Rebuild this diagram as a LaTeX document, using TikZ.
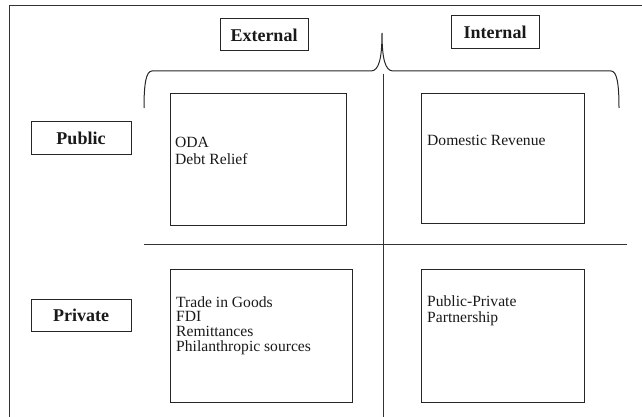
\documentclass[tikz,border=0pt]{standalone}
\usepackage{fontspec}
\setmainfont{Liberation Serif}
\begin{document}
\begin{tikzpicture}[x=1pt,y=-1pt,
  headbox/.style={draw=black!85, line width=1pt, inner sep=0pt, font=\fontsize{18}{20}\selectfont\bfseries, text=black!90},
  cell/.style={draw=black!85, line width=1pt, anchor=north west, inner sep=0pt},
  celltext/.style={anchor=north west, inner sep=0pt, align=left, font=\fontsize{15.6}{16.8}\selectfont, text=black!90}]
\useasboundingbox (0,0) rectangle (642,417);
% frame (top and left only)
\draw[black!80, line width=1pt] (9,417) -- (9,6) -- (642,6);

% column headers
\node[headbox, minimum width=88, minimum height=32] (ext) at (264,35) {External};
\node[headbox, minimum width=88, minimum height=33] (int) at (495,32.5) {Internal};

% brace over both columns
\draw[black!85, line width=1pt] (144,108) .. controls (144,84) and (146,71) .. (152,71)
  -- (371,71) .. controls (379,71) and (382,58) .. (382,33)
  .. controls (382,58) and (385,71) .. (393,71)
  -- (611,71) .. controls (617,71) and (619,84) .. (619,108);

% row headers
\node[headbox, minimum width=100, minimum height=32] (pub) at (81,138) {Public};
\node[headbox, minimum width=100, minimum height=32] (priv) at (81,315) {Private};

% quadrant dividers
\draw[black!80, line width=1pt] (383,74) -- (383,417);
\draw[black!80, line width=1pt] (144,244) -- (627,244);

% cells
\node[cell, minimum width=176, minimum height=132] (extpub) at (170,93) {};
\node[cell, minimum width=163, minimum height=130] (intpub) at (421,93) {};
\node[cell, minimum width=182, minimum height=133] (extpriv) at (170,269) {};
\node[cell, minimum width=163, minimum height=133] (intpriv) at (421,269) {};

\node[celltext, font=\fontsize{15.6}{17.3}\selectfont] (oda) at (175,137) {ODA\\Debt Relief};
\node[celltext] (dom) at (427,135) {Domestic Revenue};
\node[celltext, font=\fontsize{15.6}{14.7}\selectfont] (trade) at (176,296)
  {Trade in Goods\\FDI\\Remittances\\Philanthropic sources};
\node[celltext] (ppp) at (427,295) {Public-Private\\Partnership};
\end{tikzpicture}
\end{document}
